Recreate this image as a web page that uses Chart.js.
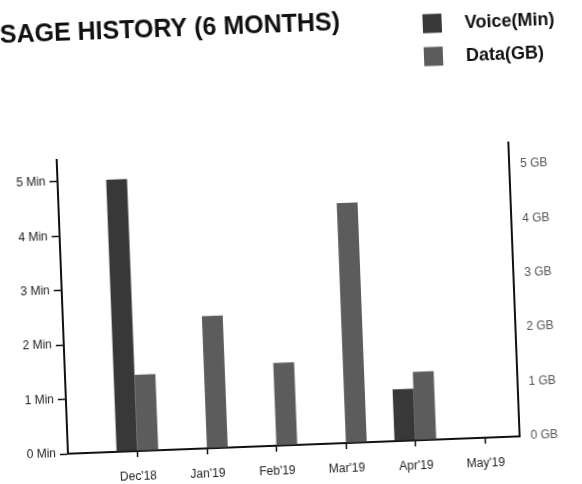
<!DOCTYPE html>
<html><head><meta charset="utf-8">
<script src="https://cdn.jsdelivr.net/npm/chart.js@4"></script>
<style>
html,body{margin:0;padding:0;background:#fff;overflow:hidden;width:582px;height:484px;}
#c{display:block;transform:rotate(-2.2deg);transform-origin:291px 242px;}
</style></head><body>
<canvas id="c" width="582" height="484"></canvas>
<script>
const months = ["Dec'18", "Jan'19", "Feb'19", "Mar'19", "Apr'19", "May'19"];
const voiceMin = [5.0, 0, 0, 0, 0.95, 0];
const dataGB = [1.4, 2.43, 1.52, 4.41, 1.26, 0];
const titleText = "SAGE HISTORY (6 MONTHS)";
const seriesNames = ["Voice(Min)", "Data(GB)"];
const voiceColor = '#383838';
const dataColor = '#5c5c5c';

Chart.defaults.font.family = '"Liberation Sans", Arial, sans-serif';

const sideLegend = {
  id: 'sideLegend',
  afterDraw(chart) {
    const ctx = chart.ctx;
    ctx.save();
    ctx.font = 'bold 18px "Liberation Sans", Arial, sans-serif';
    ctx.textBaseline = 'middle';
    ctx.textAlign = 'left';
    chart.data.datasets.forEach((ds, i) => {
      const cy = 29 + i * 33;
      ctx.fillStyle = ds.backgroundColor;
      ctx.fillRect(431, cy - 9.5, 19, 19);
      ctx.fillStyle = '#111';
      ctx.fillText(ds.label, 473, cy + 1);
    });
    ctx.restore();
  }
};

new Chart(document.getElementById('c'), {
  type: 'bar',
  data: {
    datasets: [
      { label: seriesNames[0], data: voiceMin.map((v, i) => ({ x: i, y: v })), backgroundColor: voiceColor,
        yAxisID: 'y', categoryPercentage: 0.6, barPercentage: 1 },
      { label: seriesNames[1], data: dataGB.map((v, i) => ({ x: i, y: v })), backgroundColor: dataColor,
        yAxisID: 'y2', categoryPercentage: 0.6, barPercentage: 1 }
    ]
  },
  options: {
    responsive: false,
    animation: false,
    devicePixelRatio: 1,
    layout: { padding: { left: 8, right: 0, top: 0, bottom: 0 } },
    plugins: {
      legend: { display: false },
      tooltip: { enabled: false },
      title: {
        display: true, text: titleText, align: 'start', color: '#111',
        font: { size: 25, weight: 'bold' },
        padding: { top: 10, bottom: 111 }
      }
    },
    scales: {
      x: {
        type: 'linear', min: -1, max: 5.5, offset: false,
        ticks: {
          stepSize: 1, includeBounds: false, autoSkip: false, maxRotation: 0,
          color: '#222', font: { size: 12 }, padding: 12,
          callback: (v) => months[v] ?? ''
        },
        grid: {
          offset: false, drawOnChartArea: false, tickLength: 6, tickWidth: 1.5,
          tickColor: (c) => (c.tick && c.tick.value >= 0) ? '#111' : 'rgba(0,0,0,0)'
        },
        border: { color: '#111', width: 2 },
        afterFit: (s) => { s.height = 39; }
      },
      y: {
        position: 'left', min: 0, max: 5.4,
        ticks: { stepSize: 1, includeBounds: false, callback: (v) => v + ' Min', padding: 4, color: '#222', font: { size: 12 } },
        grid: { drawOnChartArea: false, tickLength: 8, tickColor: '#111', tickWidth: 1.5 },
        border: { color: '#111', width: 2 },
        afterFit: (s) => { s.width = 52; }
      },
      y2: {
        position: 'right', min: 0, max: 5.4,
        ticks: { stepSize: 1, includeBounds: false, callback: (v) => v + ' GB', padding: 11, color: '#555', font: { size: 12 } },
        grid: { drawOnChartArea: false, drawTicks: false },
        border: { color: '#111', width: 2 },
        afterFit: (s) => { s.width = 70; }
      }
    }
  },
  plugins: [sideLegend]
});
</script>
</body></html>
